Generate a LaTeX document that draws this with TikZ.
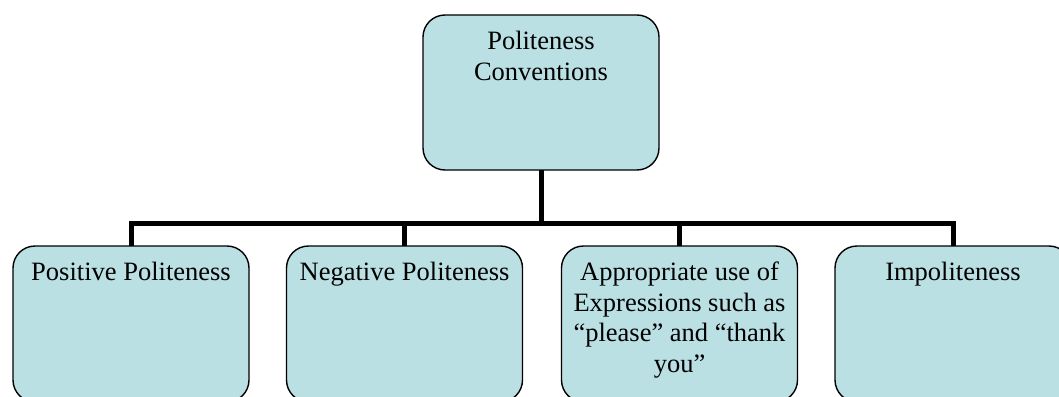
\documentclass[tikz,border=0pt]{standalone}
\usepackage{fontspec}
\setmainfont{Liberation Serif}
\definecolor{boxfill}{RGB}{186,224,227}
\begin{document}
\begin{tikzpicture}[x=1pt,y=1pt,
  orgbox/.style={draw=black, line width=1.4pt, fill=boxfill, rounded corners=22pt,
    minimum width=236pt, inner sep=0pt, outer sep=0pt},
  boxtext/.style={anchor=north, inner sep=0pt, align=center,
    font=\fontsize{26.5}{30.5}\selectfont},
  conn/.style={line width=5pt, line join=miter, line cap=butt}]
\useasboundingbox (0,0) rectangle (1059,-396);
\fill[white] (0,0) rectangle (1059,-396);
% boxes
\node[orgbox, minimum height=155pt] (top) at (541,-92.5) {};
\node[orgbox, minimum height=156pt] (b1) at (131,-324) {};
\node[orgbox, minimum height=156pt] (b2) at (404.5,-324) {};
\node[orgbox, minimum height=156pt] (b3) at (679.5,-324) {};
\node[orgbox, minimum height=156pt] (b4) at (953,-324) {};
% texts
\node[boxtext] (ttop) at ([yshift=-16pt]top.north) {Politeness\\Conventions};
\node[boxtext] (t1) at ([yshift=-16pt]b1.north) {Positive Politeness};
\node[boxtext] (t2) at ([yshift=-16pt]b2.north) {Negative Politeness};
\node[boxtext] (t3) at ([yshift=-16pt]b3.north) {Appropriate use of\\Expressions such as\\“please” and “thank\\you”};
\node[boxtext] (t4) at ([yshift=-16pt]b4.north) {Impoliteness};
% connectors
\coordinate (bar) at (541,-223);
\draw[conn] (top.south) -- (top.south |- bar);
\draw[conn] (b1.north) -- (b1.north |- bar) -- (b4.north |- bar) -- (b4.north);
\draw[conn] (b2.north) -- (b2.north |- bar);
\draw[conn] (b3.north) -- (b3.north |- bar);
\end{tikzpicture}
\end{document}
